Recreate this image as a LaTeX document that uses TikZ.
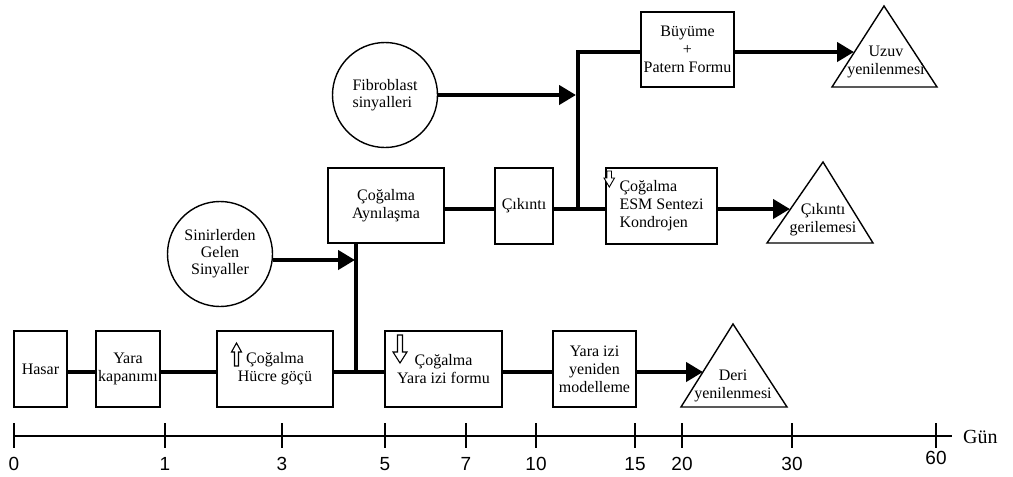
\documentclass[tikz,border=0pt]{standalone}
\usepackage{fontspec}
\setmainfont{Liberation Serif}
\newfontfamily\numfont{Liberation Sans}
\usetikzlibrary{arrows.meta,calc}
\begin{document}
\begin{tikzpicture}[x=1pt,y=-1pt,
  box/.style={draw,line width=1.8pt,inner sep=0pt,font=\fontsize{16}{18}\selectfont,align=center},
  circ/.style={draw,circle,line width=1.4pt,minimum size=105pt,inner sep=0pt,font=\fontsize{16}{17}\selectfont,align=center},
  tri/.style={draw,line width=1.4pt,line join=miter},
  lbl/.style={font=\fontsize{16}{18}\selectfont,align=center,inner sep=0pt},
  ln/.style={line width=4.5pt},
  arr/.style={line width=4.5pt,-{Triangle[length=17pt,width=19pt]}},
  hollow/.style={draw,line width=1.1pt,fill=white,line join=miter},
  axis/.style={line width=1.8pt},
  num/.style={font=\numfont\fontsize{19}{19}\selectfont,inner sep=0pt},
]
\useasboundingbox (0,0) rectangle (1013,477);

% bottom row boxes
\node[box,minimum width=53pt,minimum height=76pt] (hasar) at (40.5,369) {Hasar};
\node[box,minimum width=64pt,minimum height=76pt] (yk) at (128,369) {Yara\\kapanımı};
\node[box,minimum width=116pt,minimum height=76pt] (hg) at (275,369) {Çoğalma\\Hücre göçü};
\node[box,minimum width=117pt,minimum height=76pt] (yif) at (443.5,369) {Çoğalma\\Yara izi formu};
\node[box,minimum width=83pt,minimum height=76pt] (yym) at (594.5,369) {Yara izi\\yeniden\\modelleme};

% middle row
\node[box,minimum width=116pt,minimum height=75pt] (ca) at (386,205.5) {Çoğalma\\Aynılaşma};
\node[box,minimum width=58pt,minimum height=76pt] (cik) at (524,206) {Çıkıntı};
\node[box,minimum width=111pt,minimum height=76pt,align=left] (esm) at (661.5,206) {Çoğalma\\ESM Sentezi\\Kondrojen};

% top box
\node[box,minimum width=93pt,minimum height=75pt] (bp) at (687.5,49.5) {Büyüme\\+\\Patern Formu};

% circles
\node[circ] (sin) at (220,254) {Sinirlerden\\Gelen\\Sinyaller};
\node[circ,align=left] (fib) at (385,95) {Fibroblast\\sinyalleri};

% triangles
\coordinate (deriA) at (733,324);
\coordinate (deriL) at (681,407);
\coordinate (deriR) at (787,407);
\draw[tri] (deriA) -- (deriL) -- (deriR) -- cycle;
\node[lbl] (deriT) at (733,386) {Deri\\yenilenmesi};

\coordinate (cgA) at (823,162);
\coordinate (cgL) at (767,243);
\coordinate (cgR) at (873,243);
\draw[tri] (cgA) -- (cgL) -- (cgR) -- cycle;
\node[lbl] (cgT) at (823,220) {Çıkıntı\\gerilemesi};

\coordinate (uzA) at (884,6);
\coordinate (uzL) at (832,87);
\coordinate (uzR) at (937,87);
\draw[tri] (uzA) -- (uzL) -- (uzR) -- cycle;
\node[lbl] (uzT) at (886,62) {Uzuv\\yenilenmesi};

% helper coordinates
\coordinate (my) at (0,372);
\coordinate (uy) at (0,209);
\coordinate (ty) at (0,52);
\coordinate (jv) at (356,372);
\coordinate (j1) at (355,260);
\coordinate (jt) at (578,209);
\coordinate (jtop) at (578,52);
\coordinate (j2) at (576,95);
\coordinate (deriIn) at (703,372);
\coordinate (cgIn) at (790,209);
\coordinate (uzIn) at (854,52);

% main line
\draw[ln] (hasar.east |- my) -- (yk.west |- my);
\draw[ln] (yk.east |- my) -- (hg.west |- my);
\draw[ln] (hg.east |- my) -- (yif.west |- my);
\draw[ln] (yif.east |- my) -- (yym.west |- my);
\draw[arr] (yym.east |- my) -- (deriIn);
\draw[ln] (jv) -- (jv |- ca.south);

% middle line
\draw[ln] (ca.east |- uy) -- (cik.west |- uy);
\draw[ln] (cik.east |- uy) -- (esm.west |- uy);
\draw[ln,line join=miter] (jt) -- (jtop) -- (bp.west |- ty);
\draw[arr] (esm.east |- uy) -- (cgIn);
\draw[arr] (bp.east |- ty) -- (uzIn);

% signal arrows
\draw[arr] (sin.east |- j1) -- (j1);
\draw[arr] (fib.east |- j2) -- (j2);

% hollow arrows
\draw[hollow] (234.5,366) -- (234.5,352) -- (231.5,352) -- (236.5,343) -- (241.5,352) -- (238.5,352) -- (238.5,366) -- cycle;
\draw[hollow] (397.5,335) -- (402.5,335) -- (402.5,352) -- (407,352) -- (400,363) -- (393,352) -- (397.5,352) -- cycle;
\draw[hollow,line width=0.9pt] (607,171) -- (611.5,171) -- (611.5,178) -- (614.5,178) -- (609.3,187) -- (604,178) -- (607,178) -- cycle;

% time axis
\coordinate (ax0) at (14,436);
\coordinate (ax1) at (952,436);
\draw[axis] (ax0) -- (ax1);
\foreach \x/\t in {14/0,165/1,282/3,385/5,466/7,536/10,635/15,682/20,792/30} {
  \draw[axis] (\x,423) -- (\x,448);
  \node[num] (n\t) at (\x,464) {\t};
}
\draw[axis] (936,423) -- (936,448);
\node[num] (n60) at (936,458) {60};
\node[font=\fontsize{20}{20}\selectfont,anchor=west,inner sep=0pt] (gun) at (963,437) {Gün};
\end{tikzpicture}
\end{document}
